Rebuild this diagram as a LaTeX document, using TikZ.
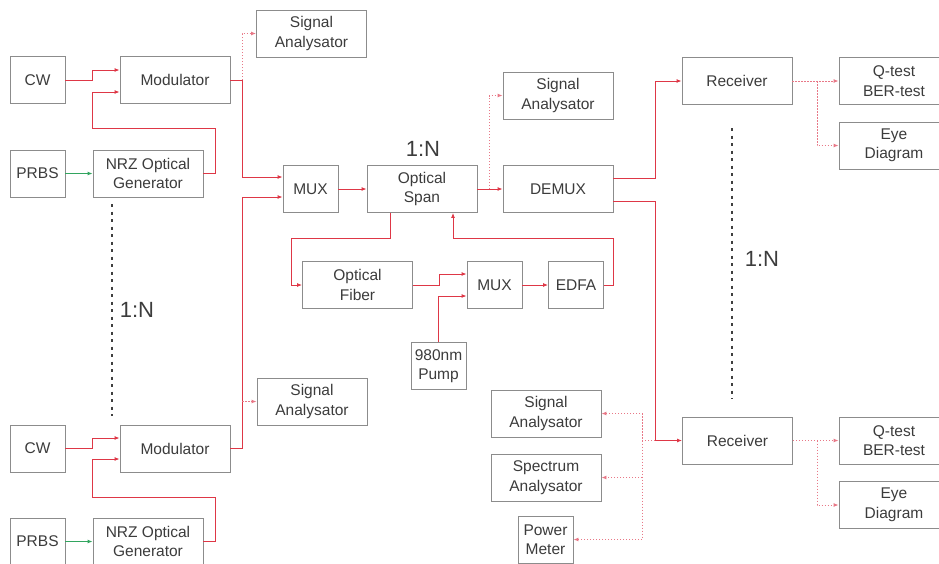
\documentclass[tikz,border=0pt]{standalone}
\usepackage{fontspec}
\setmainfont{Liberation Sans}
\usetikzlibrary{arrows.meta}
\definecolor{lred}{RGB}{222,55,70}
\definecolor{pinkd}{RGB}{232,120,135}
\definecolor{gline}{RGB}{50,165,95}
\definecolor{bordc}{RGB}{140,140,140}
\definecolor{txtc}{RGB}{60,60,60}
\begin{document}
\begin{tikzpicture}[x=1pt,y=-1pt,
  blk/.style={draw=bordc,line width=0.9pt,fill=white,text=txtc,align=center,minimum height=47pt,inner sep=0pt,font=\fontsize{15.5}{19.5}\selectfont},
  wide/.style={blk,minimum width=110pt},
  narrow/.style={blk,minimum width=55pt},
  sig/.style={draw=lred,line width=0.9pt,-{Latex[length=5pt,width=4pt]}},
  tap/.style={draw=pinkd,line width=0.9pt,dash pattern=on 1.5pt off 1.5pt,-{Latex[length=5pt,width=4pt]}},
  gsig/.style={draw=gline,line width=0.9pt,-{Latex[length=5pt,width=4pt]}},
  ratio/.style={text=txtc,inner sep=0pt,font=\fontsize{22}{26}\selectfont},
  cont/.style={draw=black!75,line width=2.5pt,dash pattern=on 3pt off 4.5pt}
]
\useasboundingbox (0,0) rectangle (939,563);

% left upper chain
\node[narrow] (cw1)   at (37.5,80)   {CW};
\node[wide]   (mod1)  at (175,80)    {Modulator};
\node[wide]   (sa1)   at (311.5,33.5){Signal\\Analysator};
\node[narrow] (prbs1) at (37.5,173.5){PRBS};
\node[wide]   (nrz1)  at (148,173.5) {NRZ Optical\\Generator};

% left lower chain
\node[wide]   (sa4)   at (312,401.5) {Signal\\Analysator};
\node[narrow] (cw2)   at (37.5,448.5){CW};
\node[wide]   (mod2)  at (175,448.5) {Modulator};
\node[narrow] (prbs2) at (37.5,541.5){PRBS};
\node[wide]   (nrz2)  at (148,541.5) {NRZ Optical\\Generator};

% centre
\node[narrow] (mux1)  at (310.5,189) {MUX};
\node[wide]   (span)  at (422,189)   {Optical\\Span};
\node[wide]   (demux) at (558,189)   {DEMUX};
\node[wide]   (sa2)   at (558,95.5)  {Signal\\Analysator};
\node[wide]   (fiber) at (357.5,285) {Optical\\Fiber};
\node[narrow] (mux2)  at (494.5,285) {MUX};
\node[narrow] (edfa)  at (576,285)   {EDFA};
\node[narrow] (pump)  at (438.5,366) {980nm\\Pump};
\node[wide]   (sa3)   at (546,413.5) {Signal\\Analysator};
\node[wide]   (spec)  at (546,477.5) {Spectrum\\Analysator};
\node[narrow] (pm)    at (545.5,539.5){Power\\Meter};

% right
\node[wide]   (rx1)   at (737,81)    {Receiver};
\node[wide]   (q1)    at (894,81)    {Q-test\\BER-test};
\node[wide]   (eye1)  at (894,145.5) {Eye\\Diagram};
\node[wide]   (rx2)   at (737.5,440.5){Receiver};
\node[wide]   (q2)    at (894,440.5) {Q-test\\BER-test};
\node[wide]   (eye2)  at (894,505)   {Eye\\Diagram};

% ratio labels
\node[ratio] (r1) at (423,149) {1:N};
\node[ratio] (r2) at (137,310) {1:N};
\node[ratio] (r3) at (762,259) {1:N};

% continuation dots
\coordinate (d1a) at (112,204); \coordinate (d1b) at (112,416);
\coordinate (d2a) at (732,128); \coordinate (d2b) at (732,399);
\draw[cont] (d1a) -- (d1b);
\draw[cont] (d2a) -- (d2b);

% upper transmitter
\draw[sig] (cw1.east) -- (92,80) -- (92,70) -- (mod1.west |- 0,70);
\draw[sig] (nrz1.east) -- (215,173.5) -- (215,128) -- (92,128) -- (92,92) -- (mod1.west |- 0,92);
\draw[gsig] (prbs1.east) -- (nrz1.west);
\draw[sig] (mod1.east) -- (242,80) -- (242,177) -- (mux1.west |- 0,177);
\draw[tap] (242,80) -- (242,33.5) -- (sa1.west);

% lower transmitter
\draw[sig] (cw2.east) -- (92,448.5) -- (92,438) -- (mod2.west |- 0,438);
\draw[sig] (nrz2.east) -- (215,541.5) -- (215,497) -- (92,497) -- (92,459) -- (mod2.west |- 0,459);
\draw[gsig] (prbs2.east) -- (nrz2.west);
\draw[sig] (mod2.east) -- (242,448.5) -- (242,197) -- (mux1.west |- 0,197);
\draw[tap] (242,401.5) -- (sa4.west);

% span
\draw[sig] (mux1.east) -- (span.west);
\draw[sig] (span.east) -- (demux.west);
\draw[tap] (489,189) -- (489,95.5) -- (sa2.west);
\draw[sig] (span.south -| 390,0) -- (390,238) -- (291,238) -- (291,285) -- (fiber.west);
\draw[sig] (fiber.east) -- (439,285) -- (439,274) -- (mux2.west |- 0,274);
\draw[sig] (pump.north) -- (438.5,296) -- (mux2.west |- 0,296);
\draw[sig] (mux2.east) -- (edfa.west);
\draw[sig] (edfa.east) -- (613,285) -- (613,238) -- (453,238) -- (span.south -| 453,0);

% demux to receivers
\draw[sig] (demux.east |- 0,178) -- (655,178) -- (655,81) -- (rx1.west);
\draw[sig] (demux.east |- 0,201) -- (655,201) -- (655,440.5) -- (rx2.west);

% measurement taps
\draw[tap] (655,440.5) -- (642,440.5) -- (642,413.5) -- (sa3.east);
\draw[tap] (642,440.5) -- (642,539.5) -- (pm.east);
\draw[tap] (642,477.5) -- (spec.east);

% receiver outputs
\draw[tap] (rx1.east) -- (q1.west);
\draw[tap] (817,81) -- (817,145.5) -- (eye1.west);
\draw[tap] (rx2.east) -- (q2.west);
\draw[tap] (817,440.5) -- (817,505) -- (eye2.west);
\end{tikzpicture}
\end{document}
